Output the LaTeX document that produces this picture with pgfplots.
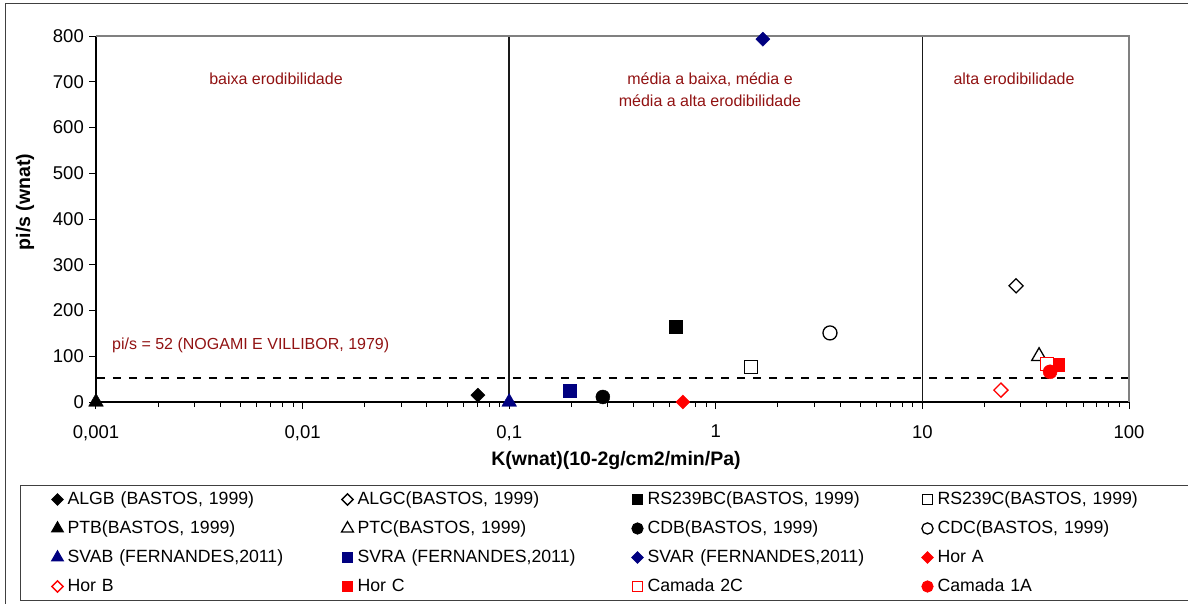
\documentclass[border=0pt]{standalone}
\usepackage{fontspec}
\setmainfont{Liberation Sans}
\usepackage{pgfplots}
\pgfplotsset{compat=1.18}
\definecolor{navy}{RGB}{0,0,128}
\definecolor{xlred}{RGB}{255,0,0}
\definecolor{txtred}{RGB}{145,18,18}

\pgfplotsset{
  fdiam/.style={only marks, mark=square*, mark size=5pt, mark options={rotate=45, solid, fill=#1, draw=#1}, color=#1},
  odiam/.style={only marks, mark=square*, mark size=5pt, mark options={rotate=45, solid, fill=white, draw=#1, line width=1.3pt}, color=#1},
  fsq/.style={only marks, mark=square*, mark size=6.5pt, mark options={solid, fill=#1, draw=#1}, color=#1},
  osq/.style={only marks, mark=square*, mark size=6.5pt, mark options={solid, fill=white, draw=#1, line width=1.3pt}, color=#1},
  fcirc/.style={only marks, mark=*, mark size=7pt, mark options={solid, fill=#1, draw=#1}, color=#1},
  ocirc/.style={only marks, mark=*, mark size=7pt, mark options={solid, fill=white, draw=#1, line width=1.3pt}, color=#1},
  ftri/.style={only marks, mark=triangle*, mark size=8.5pt, mark options={solid, fill=#1, draw=#1}, color=#1},
  otri/.style={only marks, mark=triangle*, mark size=8.5pt, mark options={solid, fill=white, draw=#1, line width=1.3pt}, color=#1},
}

\begin{document}
\begin{tikzpicture}
\path[use as bounding box] (0pt,0pt) rectangle (1188pt,-604pt);
\draw[black!75, line width=1pt] (5pt,-640pt) -- (5pt,-4pt) -- (1220pt,-4pt);
\begin{axis}[
  at={(96pt,-402pt)}, anchor=south west,
  width=1033pt, height=366pt, scale only axis,
  xmode=log, xmin=0.001, xmax=100, ymin=0, ymax=800,
  clip=false,
  axis lines=left, axis line style={-, line width=1.4pt},
  tick align=outside, major tick length=7pt, minor tick length=5pt,
  tick style={black, line width=1pt},
  xtick={0.001,0.01,0.1,1,10,100},
  xticklabels={{0,001},{0,01},{0,1},{1},{10},{100}},
  minor xtick={0.002,0.003,0.004,0.005,0.006,0.007,0.008,0.009,
               0.02,0.03,0.04,0.05,0.06,0.07,0.08,0.09,
               0.2,0.3,0.4,0.5,0.6,0.7,0.8,0.9,
               2,3,4,5,6,7,8,9,20,30,40,50,60,70,80,90},
  ytick={0,100,...,800},
  /pgf/number format/assume math mode=true,
  ticklabel style={font=\fontsize{18.5}{20}\selectfont},
  yticklabel style={inner sep=0pt, xshift=-5pt},
  xticklabel style={inner sep=0pt, yshift=-16pt},
  legend columns=4,
  legend cell align=left,
  legend image code/.code={%
    \path[draw=none, fill=none] (-7pt,-7pt) rectangle (7pt,7pt);
    \draw[mark repeat=1,#1, every mark/.append style={scale=0.8}] plot coordinates {(0pt,0pt)};},
  legend style={at={(-0.07357,-0.22678)}, anchor=north west,
    draw=black!75, line width=1pt, inner xsep=30pt, inner ysep=6.5pt,
    row sep=14pt,
    font=\fontsize{17.7}{20}\selectfont,
    nodes={inner sep=0pt, text width=273pt, text height=12pt, text depth=3pt},
    /tikz/every odd column/.append style={column sep=3pt}},
]
% reference lines
\addplot[black!90, line width=1.5pt, forget plot] coordinates {(0.1,0) (0.1,800)};
\addplot[black!90, line width=1.5pt, forget plot] coordinates {(10,0) (10,800)};
\addplot[black, line width=2.5pt, dash pattern=on 8pt off 8pt, dash phase=-17pt, forget plot] coordinates {(0.001,52) (100,52)};
\draw[gray, line width=1.6pt] (rel axis cs:0,1) -- (rel axis cs:1,1) -- (rel axis cs:1,0);

\addplot[fdiam=black] coordinates {(0.0706,15)};
\addlegendentry{ALGB (BASTOS, 1999)}
\addplot[odiam=black] coordinates {(28.4,254)};
\addlegendentry{ALGC(BASTOS, 1999)}
\addplot[fsq=black] coordinates {(0.642,164)};
\addlegendentry{RS239BC(BASTOS, 1999)}
\addplot[osq=black] coordinates {(1.48,77)};
\addlegendentry{RS239C(BASTOS, 1999)}
\addplot[ftri=black] coordinates {(0.001,0)};
\addlegendentry{PTB(BASTOS, 1999)}
\addplot[otri=black] coordinates {(36.7,100)};
\addlegendentry{PTC(BASTOS, 1999)}
\addplot[fcirc=black] coordinates {(0.284,11)};
\addlegendentry{CDB(BASTOS, 1999)}
\addplot[ocirc=black] coordinates {(3.57,151)};
\addlegendentry{CDC(BASTOS, 1999)}
\addplot[ftri=navy] coordinates {(0.1,0)};
\addlegendentry{SVAB (FERNANDES,2011)}
\addplot[fsq=navy] coordinates {(0.197,24)};
\addlegendentry{SVRA (FERNANDES,2011)}
\addplot[fdiam=navy] coordinates {(1.69,793)};
\addlegendentry{SVAR (FERNANDES,2011)}
\addplot[fdiam=xlred] coordinates {(0.693,0)};
\addlegendentry{Hor A}
\addplot[odiam=xlred] coordinates {(24.0,26)};
\addlegendentry{Hor B}
\addplot[fsq=xlred] coordinates {(45.3,81)};
\addlegendentry{Hor C}
\addplot[osq=xlred] coordinates {(40.1,83)};
\addlegendentry{Camada 2C}
\addplot[fcirc=xlred] coordinates {(41.5,66)};
\addlegendentry{Camada 1A}
\end{axis}

\node[rotate=90, font=\bfseries\fontsize{19.5}{22}\selectfont] at (25pt,-202pt) {pi/s (wnat)};
\node[font=\bfseries\fontsize{19.5}{22}\selectfont] at (616pt,-460pt) {K(wnat)(10-2g/cm2/min/Pa)};

\begin{scope}[every node/.style={text=txtred, font=\fontsize{16}{22}\selectfont, inner sep=0pt}]
\node at (276pt,-79pt) {baixa erodibilidade};
\node[align=center] at (710pt,-90pt) {média a baixa, média e\\média a alta erodibilidade};
\node at (1014pt,-79pt) {alta erodibilidade};
\node[anchor=west] at (112pt,-345pt) {pi/s = 52 (NOGAMI E VILLIBOR, 1979)};
\end{scope}
\end{tikzpicture}
\end{document}
